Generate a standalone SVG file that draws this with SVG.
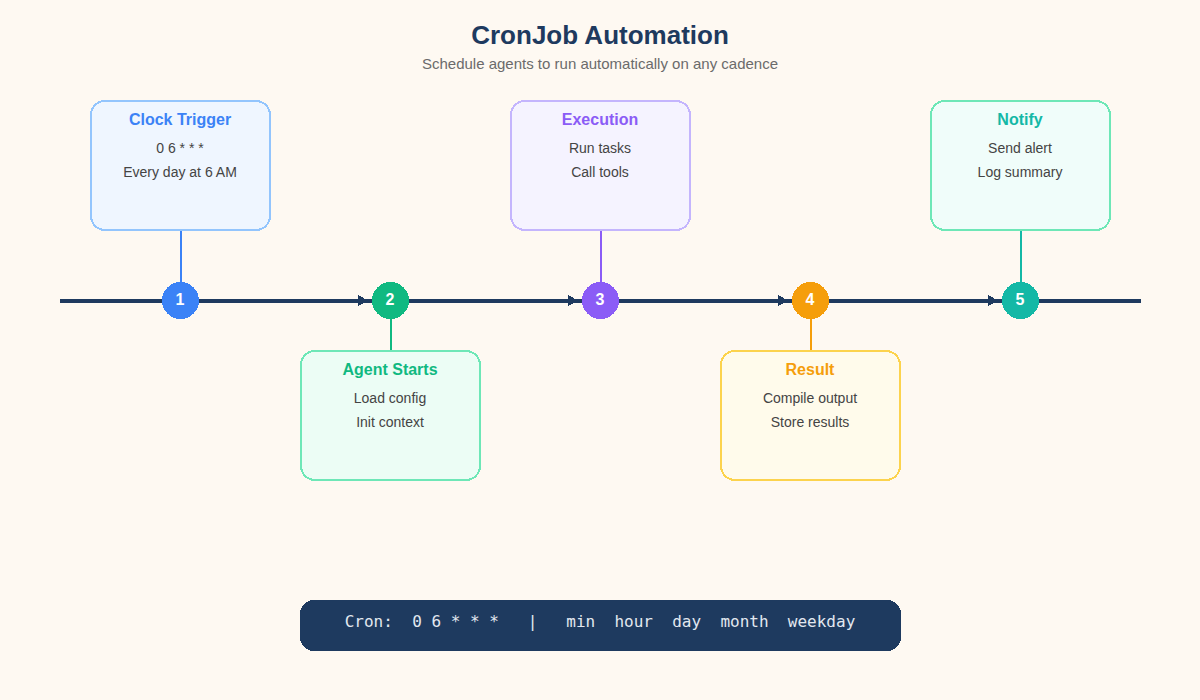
<svg xmlns="http://www.w3.org/2000/svg" width="1200" height="700" viewBox="0 0 1200 700">
<style>
text{font-family:"Liberation Sans",Arial,sans-serif;text-anchor:middle}
.title{font-size:26px;font-weight:700;fill:#1e3a5f}
.sub{font-size:15px;fill:#6b6b6b}
.h{font-size:16px;font-weight:700}
.b{font-size:14px;fill:#444}
.n{font-size:16px;font-weight:700;fill:#fff}
.box{stroke-width:2}
.arrow{fill:#1e3a5f}
rect,circle,line,polygon{shape-rendering:crispEdges}
.cron{font-family:"DejaVu Sans Mono",monospace;font-size:16px;fill:#e2e8f0;white-space:pre}
</style>
<rect width="1200" height="700" fill="#fef9f2"/>
<text class="title" x="600" y="44">CronJob Automation</text>
<text class="sub" x="600" y="69">Schedule agents to run automatically on any cadence</text>
<g id="connectors">
<line x1="60" y1="301" x2="1141" y2="301" stroke="#1e3a5f" stroke-width="4"/>
<polygon class="arrow" points="358,295 368,300.5 358,306"/>
<polygon class="arrow" points="568,295 578,300.5 568,306"/>
<polygon class="arrow" points="778,295 788,300.5 778,306"/>
<polygon class="arrow" points="988,295 998,300.5 988,306"/>
<line x1="181" y1="230" x2="181" y2="282" stroke="#3b82f6" stroke-width="2"/>
<line x1="391" y1="318" x2="391" y2="350" stroke="#10b981" stroke-width="2"/>
<line x1="601" y1="230" x2="601" y2="282" stroke="#8b5cf6" stroke-width="2"/>
<line x1="811" y1="318" x2="811" y2="350" stroke="#f59e0b" stroke-width="2"/>
<line x1="1021" y1="230" x2="1021" y2="282" stroke="#14b8a6" stroke-width="2"/>
</g>
<g id="node-1">
<circle cx="180.5" cy="300.5" r="18.5" fill="#3b82f6"/>
<text class="n" x="180" y="305">1</text>
<rect class="box" x="91" y="101" width="179" height="129" rx="14" fill="#eff6ff" stroke="#93c5fd"/>
<text class="h" x="180" y="125" fill="#3b82f6">Clock Trigger</text>
<text class="b" x="180" y="153">0 6 * * *</text>
<text class="b" x="180" y="177">Every day at 6 AM</text>
</g>
<g id="node-2">
<circle cx="390.5" cy="300.5" r="18.5" fill="#10b981"/>
<text class="n" x="390" y="305">2</text>
<rect class="box" x="301" y="351" width="179" height="129" rx="14" fill="#ecfdf5" stroke="#6ee7b7"/>
<text class="h" x="390" y="375" fill="#10b981">Agent Starts</text>
<text class="b" x="390" y="403">Load config</text>
<text class="b" x="390" y="427">Init context</text>
</g>
<g id="node-3">
<circle cx="600.5" cy="300.5" r="18.5" fill="#8b5cf6"/>
<text class="n" x="600" y="305">3</text>
<rect class="box" x="511" y="101" width="179" height="129" rx="14" fill="#f5f3ff" stroke="#c4b5fd"/>
<text class="h" x="600" y="125" fill="#8b5cf6">Execution</text>
<text class="b" x="600" y="153">Run tasks</text>
<text class="b" x="600" y="177">Call tools</text>
</g>
<g id="node-4">
<circle cx="810.5" cy="300.5" r="18.5" fill="#f59e0b"/>
<text class="n" x="810" y="305">4</text>
<rect class="box" x="721" y="351" width="179" height="129" rx="14" fill="#fffbeb" stroke="#fcd34d"/>
<text class="h" x="810" y="375" fill="#f59e0b">Result</text>
<text class="b" x="810" y="403">Compile output</text>
<text class="b" x="810" y="427">Store results</text>
</g>
<g id="node-5">
<circle cx="1020.5" cy="300.5" r="18.5" fill="#14b8a6"/>
<text class="n" x="1020" y="305">5</text>
<rect class="box" x="931" y="101" width="179" height="129" rx="14" fill="#f0fdfa" stroke="#6ee7b7"/>
<text class="h" x="1020" y="125" fill="#14b8a6">Notify</text>
<text class="b" x="1020" y="153">Send alert</text>
<text class="b" x="1020" y="177">Log summary</text>
</g>
<g id="cron-bar">
<rect x="300" y="600" width="601" height="51" rx="14" fill="#1e3a5f"/>
<text class="cron" x="600" y="627" xml:space="preserve">Cron:  0 6 * * *   |   min  hour  day  month  weekday</text>
</g>
</svg>
